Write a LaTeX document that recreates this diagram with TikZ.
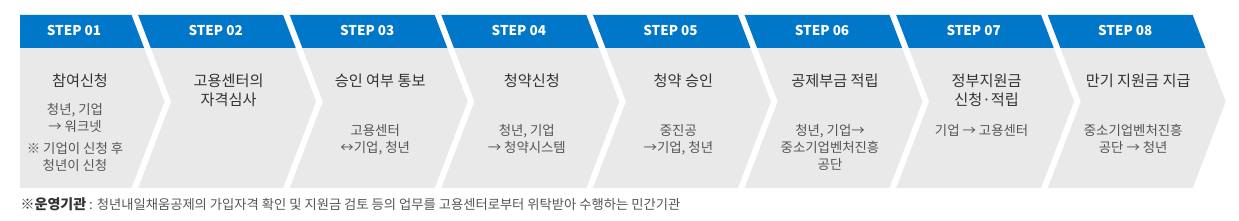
\documentclass[tikz,border=0pt]{standalone}
\usepackage{fontspec}
\setmainfont{Noto Sans CJK KR}
\definecolor{stepblue}{HTML}{0077C8}
\definecolor{stepgray}{HTML}{E9E9E9}
\definecolor{titlegray}{HTML}{333333}
\definecolor{subgray}{HTML}{555555}
\usetikzlibrary{positioning}

\begin{document}
\begin{tikzpicture}[x=1pt,y=-1pt,
 steplabel/.style={font=\fontsize{13.5}{16}\selectfont\bfseries,text=white,inner sep=0pt},
 steptitle/.style={font=\fontsize{15.2}{19}\selectfont,text=titlegray,align=center,%
   inner sep=0pt,anchor=north},
 stepsub/.style={font=\fontsize{13.4}{17}\selectfont,text=subgray,align=center,%
   inner sep=0pt,anchor=north}]
\useasboundingbox (0,0) rectangle (1239,221);
% chevrons: grey body, blue head band
\foreach \i in {1,...,8}{
  \pgfmathsetmacro{\R}{131.5+151.6*(\i-1)}
  \pgfmathsetmacro{\L}{\R-144.9}
  \ifnum\i=1
    \fill[stepgray] (20,15) -- (\R,15) -- (\R+33,101.5) -- (\R,188) -- (20,188) -- cycle;
    \fill[stepblue] (20,15) -- (\R,15) -- (\R+12.6,48) -- (20,48) -- cycle;
    \def\M{74}
  \else
    \fill[stepgray] (\L,15) -- (\R,15) -- (\R+33,101.5) -- (\R,188) -- (\L,188)
      -- (\L+33,101.5) -- cycle;
    \fill[stepblue] (\L,15) -- (\R,15) -- (\R+12.6,48) -- (\L+12.6,48) -- cycle;
    \pgfmathsetmacro{\M}{\R-67.45}
  \fi
  \node[steplabel] (h\i) at (\M,30.5) {STEP 0\i};
}
% titles
\node[steptitle] (t1) at (80,74) {참여신청};
\node[steptitle] (t2) at (228.6,74) {고용센터의\\자격심사};
\node[steptitle] (t3) at (380.2,74) {승인 여부 통보};
\node[steptitle] (t4) at (531.8,74) {청약신청};
\node[steptitle] (t5) at (683.4,74) {청약 승인};
\node[steptitle] (t6) at (835.0,74) {공제부금 적립};
\node[steptitle] (t7) at (986.6,74) {정부지원금\\신청·적립};
\node[steptitle] (t8) at (1138.2,74) {만기 지원금 지급};
% details
\node[stepsub] (s1) at (75,103.5) {청년, 기업\\→ 워크넷\\[5pt]※ 기업이 신청 후\\청년이 신청};
\node[stepsub] (s3) at (375.2,124.5) {고용센터\\↔기업, 청년};
\node[stepsub] (s4) at (526.8,124.5) {청년, 기업\\→ 청약시스템};
\node[stepsub] (s5) at (678.4,124.5) {중진공\\→기업, 청년};
\node[stepsub] (s6) at (830.0,124.5) {청년, 기업→\\중소기업벤처진흥\\공단};
\node[stepsub] (s7) at (981.6,124.5) {기업 → 고용센터};
\node[stepsub] (s8) at (1133.2,124.5) {중소기업벤처진흥\\공단 → 청년};
% note
\node[anchor=base west,inner sep=0pt,font=\fontsize{13.3}{15}\selectfont,text=subgray]
  (note) at (20.5,209.5) {{\fontsize{14}{15}\selectfont\bfseries\color{titlegray}※운영기관} : 청년내일채움공제의 가입자격 확인 및 지원금 검토 등의 업무를 고용센터로부터 위탁받아 수행하는 민간기관};
\end{tikzpicture}
\end{document}
